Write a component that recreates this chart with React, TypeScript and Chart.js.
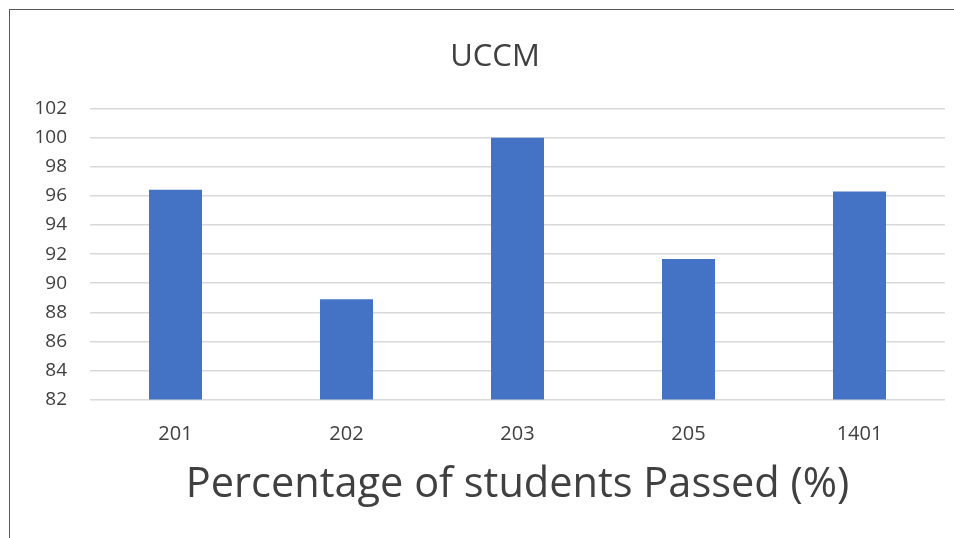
import React, { useEffect, useRef } from "react";
import { Chart, registerables } from "chart.js";

Chart.register(...registerables);

const categories = ["201", "202", "203", "205", "1401"];
const passedValues = [96.43, 88.89, 100, 91.67, 96.3];
const chartTitle = "UCCM";
const xAxisTitle = "Percentage of students Passed (%)";
const yMin = 82;
const yMax = 102;
const yStep = 2;

const FONT = "'Open Sans', 'Noto Sans', sans-serif";
const TEXT = "#404040";

export default function App() {
  const canvasRef = useRef<HTMLCanvasElement | null>(null);

  useEffect(() => {
    const canvas = canvasRef.current;
    if (!canvas) return;
    const chart = new Chart(canvas, {
      type: "bar",
      data: {
        labels: categories,
        datasets: [
          {
            label: "Passed",
            data: passedValues,
            backgroundColor: "#4472C4",
            borderColor: "#4472C4",
            borderWidth: 0,
            categoryPercentage: 1,
            barPercentage: 0.31,
            yAxisID: "y",
          },
        ],
      },
      options: {
        responsive: false,
        animation: false,
        maintainAspectRatio: false,
        layout: { padding: { top: 0, right: 0, left: 0, bottom: 0 } },
        plugins: {
          legend: { display: false },
          tooltip: { enabled: false },
          title: {
            display: true,
            text: chartTitle,
            color: TEXT,
            font: { family: FONT, size: 31, weight: "normal" },
            padding: { top: 28.5, bottom: 33 },
          },
        },
        scales: {
          x: {
            grid: { display: false },
            border: { display: false },
            ticks: {
              color: TEXT,
              font: { family: FONT, size: 20 },
              padding: 15,
            },
            title: {
              display: true,
              text: xAxisTitle,
              color: TEXT,
              font: { family: FONT, size: 41.5 },
              padding: { top: 0, bottom: 28 },
            },
            afterFit: (scale: any) => {
              scale.height = 138.5;
            },
          },
          y: {
            min: yMin,
            max: yMax,
            grid: {
              color: "#d9d9d9",
              lineWidth: 1.5,
              drawTicks: false,
            },
            border: { display: false },
            ticks: {
              stepSize: yStep,
              color: TEXT,
              font: { family: FONT, size: 19 },
              padding: 23,
            },
            afterFit: (scale: any) => {
              scale.width = 80;
            },
          },
          yRight: {
            type: "linear",
            position: "right",
            display: true,
            min: yMin,
            max: yMax,
            grid: { display: false, drawTicks: false },
            border: { display: false },
            ticks: { display: false },
            afterFit: (scale: any) => {
              scale.width = 35;
            },
          },
        },
      },
    });
    return () => chart.destroy();
  }, []);

  return (
    <div
      style={{
        position: "fixed",
        left: 9,
        top: 9,
        width: 945,
        height: 529,
        borderLeft: "1px solid #595959",
        borderTop: "1px solid #595959",
        background: "#fff",
        overflow: "hidden",
      }}
    >
      <canvas ref={canvasRef} width={970} height={528} style={{ display: "block" }} />
    </div>
  );
}
